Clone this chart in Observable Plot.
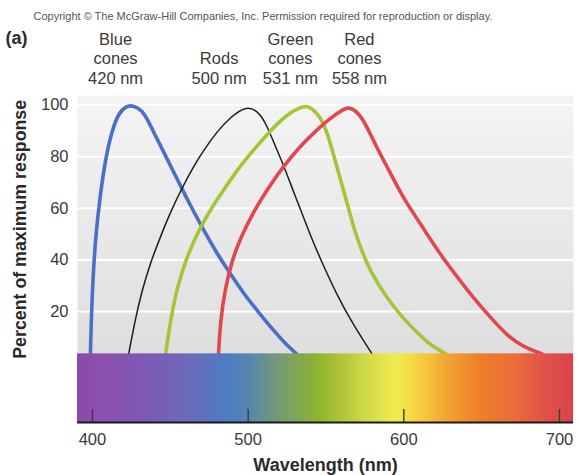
<!DOCTYPE html>
<html>
<head>
<meta charset="utf-8">
<script src="https://cdn.jsdelivr.net/npm/d3@7"></script>
<script src="https://cdn.jsdelivr.net/npm/@observablehq/plot@0.6"></script>
<style>
  html, body { margin: 0; padding: 0; background: #fff; }
  svg { display: block; }
</style>
</head>
<body>
<div id="chart"></div>
<script>
// ---- data ----
const blueNm  = [398.7, 399.7, 401.9, 405.1, 408.3, 412.7, 417.0, 421.5, 426.0, 431.9, 435.1, 440.4, 446.8, 453.3, 458.6, 462.9, 471.5, 480.1, 488.6, 497.2, 505.8, 516.4, 523.0, 531.0];
const blueVal = [3.6, 26.0, 49.0, 65.5, 79.0, 90.5, 97.0, 99.5, 100, 97.9, 94.7, 88.2, 80.5, 72.7, 66.2, 61.2, 51.4, 42.4, 34.6, 26.9, 20.4, 12.6, 8.1, 3.6];

const rodNm  = [423.3, 427.5, 432.0, 437.3, 443.7, 450.1, 457.6, 466.0, 471.5, 480.1, 488.6, 498.5, 505.8, 511.1, 516.4, 522.9, 529.3, 534.7, 540.0, 546.4, 557.1, 567.8, 579.6];
const rodVal = [3.6, 17.0, 28.5, 39.0, 49.0, 58.5, 68.0, 77.3, 82.5, 89.8, 95.3, 99.6, 97.9, 93.4, 85.6, 76.5, 66.2, 57.9, 49.5, 40.4, 26.2, 14.6, 3.6];

const greenNm  = [447.0, 450.1, 454.4, 460.8, 468.3, 475.8, 484.3, 495.1, 505.8, 516.4, 525.0, 533.6, 538.0, 541.1, 546.4, 550.7, 555.0, 560.4, 564.6, 568.0, 573.0, 578.5, 589.3, 600.0, 610.0, 617.1, 626.7];
const greenVal = [3.6, 16.5, 29.4, 41.5, 51.5, 59.5, 67.2, 76.6, 84.3, 91.4, 96.3, 99.2, 99.6, 98.6, 95.5, 89.5, 80.5, 68.8, 59.8, 52.0, 43.5, 35.5, 25.0, 17.0, 11.0, 7.0, 3.6];

const redNm  = [481.0, 482.2, 485.4, 489.7, 495.1, 503.6, 512.2, 522.9, 533.6, 544.3, 552.9, 561.4, 565.0, 571.0, 576.0, 581.0, 589.3, 600.0, 610.7, 623.5, 634.2, 645.0, 656.0, 666.3, 677.0, 688.8];
const redVal = [3.6, 16.5, 29.4, 39.8, 48.5, 58.8, 67.3, 76.5, 84.2, 90.5, 95.0, 98.5, 99.2, 97.0, 92.0, 85.5, 76.0, 63.5, 54.0, 42.0, 33.5, 25.0, 17.5, 10.7, 6.2, 3.6];

const labelLines  = ["Blue\ncones\n420 nm", "Rods\n500 nm", "Green\ncones\n531 nm", "Red\ncones\n558 nm"];
const peakNm      = [420, 500, 531, 558];

const xTicks = [400, 500, 600, 700];
const yTicks = [20, 40, 60, 80, 100];

const spectrumNm     = [390, 410, 440, 465, 485, 500, 515, 530, 545, 560, 575, 595, 610, 630, 650, 670, 690, 709];
const spectrumColors = ["#8a4aa8", "#8c50b0", "#7a5cb6", "#6a6cbc", "#4c7bc4", "#5585ae", "#6e9484", "#7fa45a", "#8cb530", "#b0c43a", "#d0d848", "#f2ec4e", "#f6d040", "#f2a030", "#ee7e2c", "#ea6e38", "#e15448", "#d8434a"];

const copyright = "Copyright \u00a9 The McGraw-Hill Companies, Inc. Permission required for reproduction or display.";
const xLabel = "Wavelength (nm)";
const yLabel = "Percent of maximum response";

// ---- build tables ----
const toRows = (nm, val) => nm.map((x, i) => ({nm: x, v: val[i]}));
const series = [
  {rows: toRows(blueNm, blueVal),   stroke: "#4a6fc9", width: 3.6},
  {rows: toRows(rodNm, rodVal),     stroke: "#1e1e1e", width: 1.5},
  {rows: toRows(greenNm, greenVal), stroke: "#a3c639", width: 3.6},
  {rows: toRows(redNm, redVal),     stroke: "#e2474f", width: 3.6}
];
const labelDx = [-8, -29, -6, 21];

const xDomain = [390.4, 709];
const yDomain = [-23, 103.7];
const barTop = 3.6;
const band = [{x1: xDomain[0], x2: xDomain[1], y1: yDomain[0], y2: barTop}];

const font = "'Liberation Sans', Arial, Helvetica, sans-serif";

const chart = Plot.plot({
  width: 577,
  height: 475,
  marginLeft: 77,
  marginRight: 4,
  marginTop: 95,
  marginBottom: 53,
  style: {fontFamily: font, background: "#fff", color: "#3a3a3a", overflow: "visible"},
  x: {domain: xDomain},
  y: {domain: yDomain},
  marks: [
    Plot.frame({fill: "url(#bgGrad)", stroke: null}),
    Plot.ruleY(yTicks, {stroke: "#ffffff", strokeWidth: 2}),
    ...series.map(s => Plot.line(s.rows, {x: "nm", y: "v", stroke: s.stroke, strokeWidth: s.width, curve: "basis", strokeLinecap: "round"})),
    Plot.rect(band, {x1: "x1", x2: "x2", y1: "y1", y2: "y2", fill: "url(#spectrumGrad)"}),
    Plot.ruleX(xTicks, {y1: yDomain[0], y2: yDomain[0] + 5, stroke: "#3a3a3a", strokeWidth: 1.4}),
    Plot.ruleY([yDomain[0]], {stroke: "#1a1a1a", strokeWidth: 2}),
    Plot.axisX({ticks: xTicks, tickSize: 0, tickPadding: 11, fontSize: 16.5, label: null, tickFormat: d => String(d)}),
    Plot.axisY({ticks: yTicks, tickSize: 0, tickPadding: 9, fontSize: 16.5, label: null}),
    Plot.text([xLabel], {frameAnchor: "bottom", dy: 43, fontSize: 18, fontWeight: "bold", fill: "#2a2a2a", lineAnchor: "middle"}),
    Plot.text([yLabel], {frameAnchor: "left", y: [d3.mean([0, yDomain[1]])], dx: -57, rotate: -90, fontSize: 17.8, fontWeight: "bold", fill: "#2a2a2a", textAnchor: "middle"}),
    Plot.text([copyright], {frameAnchor: "top-left", dx: -44, dy: -79, fontSize: 11, fill: "#555", textAnchor: "start", lineAnchor: "middle"}),
    Plot.text(["(a)"], {frameAnchor: "top-left", dx: -72, dy: -57, fontSize: 18, fontWeight: "bold", fill: "#2a2a2a", textAnchor: "start", lineAnchor: "middle"}),
    ...labelLines.map((t, i) => Plot.text([t], {x: [peakNm[i]], frameAnchor: "top", dx: labelDx[i], dy: -12, lineAnchor: "bottom", lineHeight: 1.18, fontSize: 16.5, fill: "#3a3a3a", textAnchor: "middle"}))
  ]
});

// gradients placed through the chart's own x scale
const xs = chart.scale("x");
const svg = d3.select(chart);
const defs = svg.insert("defs", ":first-child");
const gx1 = xs.apply(xDomain[0]), gx2 = xs.apply(xDomain[1]);
const sg = defs.append("linearGradient").attr("id", "spectrumGrad")
  .attr("gradientUnits", "userSpaceOnUse")
  .attr("x1", gx1).attr("x2", gx2).attr("y1", 0).attr("y2", 0);
spectrumNm.forEach((nm, i) => {
  sg.append("stop").attr("offset", Math.max(0, Math.min(1, (xs.apply(nm) - gx1) / (gx2 - gx1)))).attr("stop-color", spectrumColors[i]);
});
const bg = defs.append("linearGradient").attr("id", "bgGrad").attr("x1", 0).attr("x2", 0).attr("y1", 0).attr("y2", 1);
bg.append("stop").attr("offset", 0).attr("stop-color", "#f4f4f4");
bg.append("stop").attr("offset", 0.8).attr("stop-color", "#dedede");
bg.append("stop").attr("offset", 1).attr("stop-color", "#d8d8d8");

document.getElementById("chart").appendChild(chart);
</script>
</body>
</html>
